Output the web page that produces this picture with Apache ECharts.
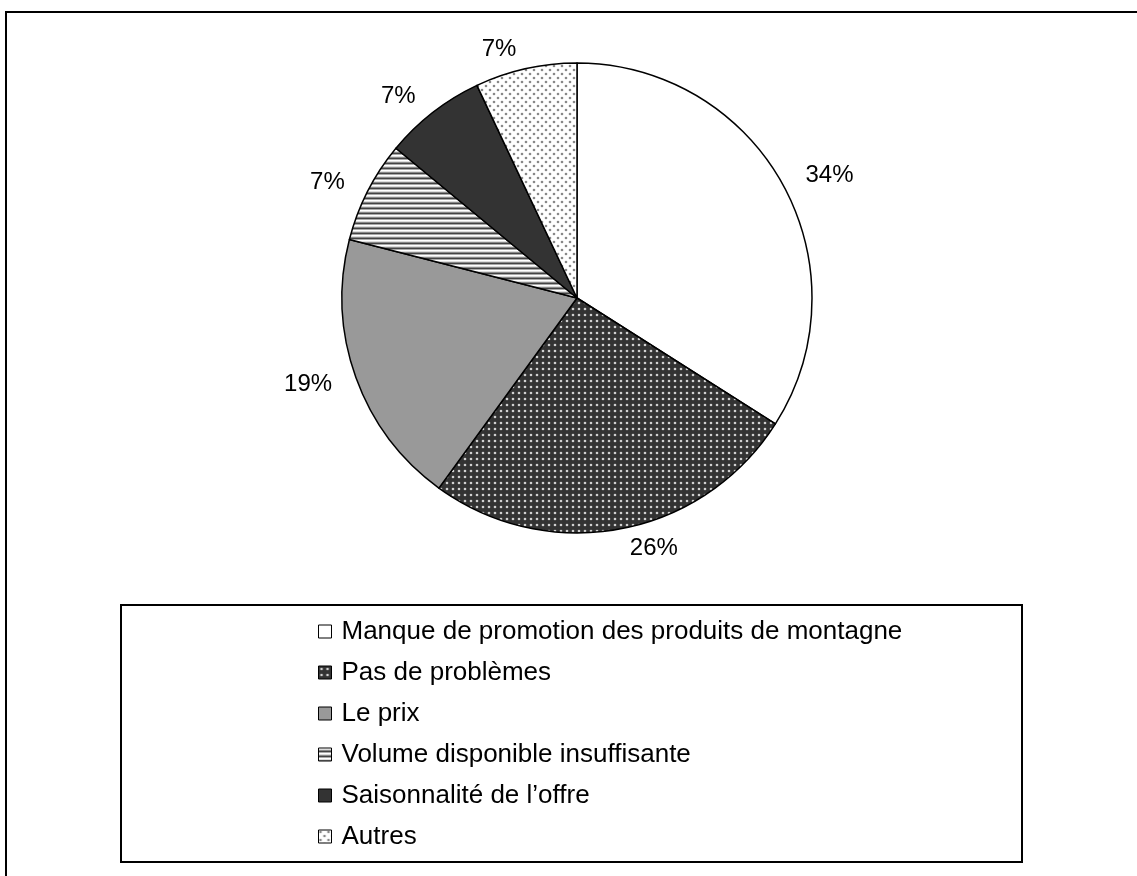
<!DOCTYPE html>
<html>
<head>
<meta charset="utf-8">
<script src="https://cdn.jsdelivr.net/npm/echarts@6/dist/echarts.min.js"></script>
<style>
html,body{margin:0;padding:0;background:#fff;}
#main{width:1137px;height:876px;}
</style>
</head>
<body>
<div id="main"></div>
<script>
var categories = [
  "Manque de promotion des produits de montagne",
  "Pas de problèmes",
  "Le prix",
  "Volume disponible insuffisante",
  "Saisonnalité de l’offre",
  "Autres"
];
var values = [34, 26, 19, 7, 7, 7];

function pat(w, h, draw) {
  var c = document.createElement('canvas');
  c.width = w; c.height = h;
  var g = c.getContext('2d');
  draw(g);
  return { image: c, repeat: 'repeat' };
}
var darkDots = pat(6, 6, function (g) {
  g.fillStyle = '#333'; g.fillRect(0, 0, 6, 6);
  g.fillStyle = '#d0d0d0';
  g.beginPath(); g.arc(3, 3, 1.3, 0, Math.PI * 2); g.fill();
});
var stripes = pat(4, 5, function (g) {
  var rows = ['#ffffff', '#dddddd', '#888888', '#444444', '#aaaaaa'];
  for (var i = 0; i < 5; i++) { g.fillStyle = rows[i]; g.fillRect(0, i, 4, 1); }
});
var lightDots = pat(8, 8, function (g) {
  g.fillStyle = '#fff'; g.fillRect(0, 0, 8, 8);
  g.fillStyle = '#888888';
  g.beginPath(); g.arc(2, 2, 1.3, 0, Math.PI * 2); g.fill();
  g.beginPath(); g.arc(6, 6, 1.3, 0, Math.PI * 2); g.fill();
});
var fills = ['#ffffff', darkDots, '#999999', stripes, '#333333', lightDots];

var chart = echarts.init(document.getElementById('main'));
var data = categories.map(function (n, i) {
  return { name: n, value: values[i], itemStyle: { color: fills[i] } };
});
chart.setOption({
  animation: false,
  graphic: [
    { type: 'rect', shape: { x: 6, y: 12, width: 1150, height: 900 },
      style: { fill: 'none', stroke: '#000', lineWidth: 2 }, z: -10 },
    { type: 'rect', shape: { x: 121, y: 605, width: 901, height: 257 },
      style: { fill: 'none', stroke: '#000', lineWidth: 2 }, z: -10 }
  ],
  legend: {
    orient: 'vertical',
    left: 318,
    top: 617,
    padding: 0,
    itemWidth: 13,
    itemHeight: 13,
    itemGap: 12,
    icon: 'rect',
    textStyle: { fontFamily: 'Liberation Sans, Arial, sans-serif', fontSize: 26, color: '#000', lineHeight: 29, padding: [0, 0, 0, 5] },
    itemStyle: { borderColor: '#000', borderWidth: 1 },
    data: categories
  },
  series: [{
    type: 'pie',
    center: [577, 298],
    radius: 235,
    startAngle: 90,
    clockwise: true,
    avoidLabelOverlap: false,
    itemStyle: { borderColor: '#000', borderWidth: 1.5 },
    label: {
      show: true,
      position: 'outside',
      formatter: '{c}%',
      fontFamily: 'Liberation Sans, Arial, sans-serif',
      fontSize: 24,
      color: '#000'
    },
    labelLine: { show: false, length: 20, length2: 0 },
    emphasis: { disabled: true },
    data: data
  }]
});
</script>
</body>
</html>
